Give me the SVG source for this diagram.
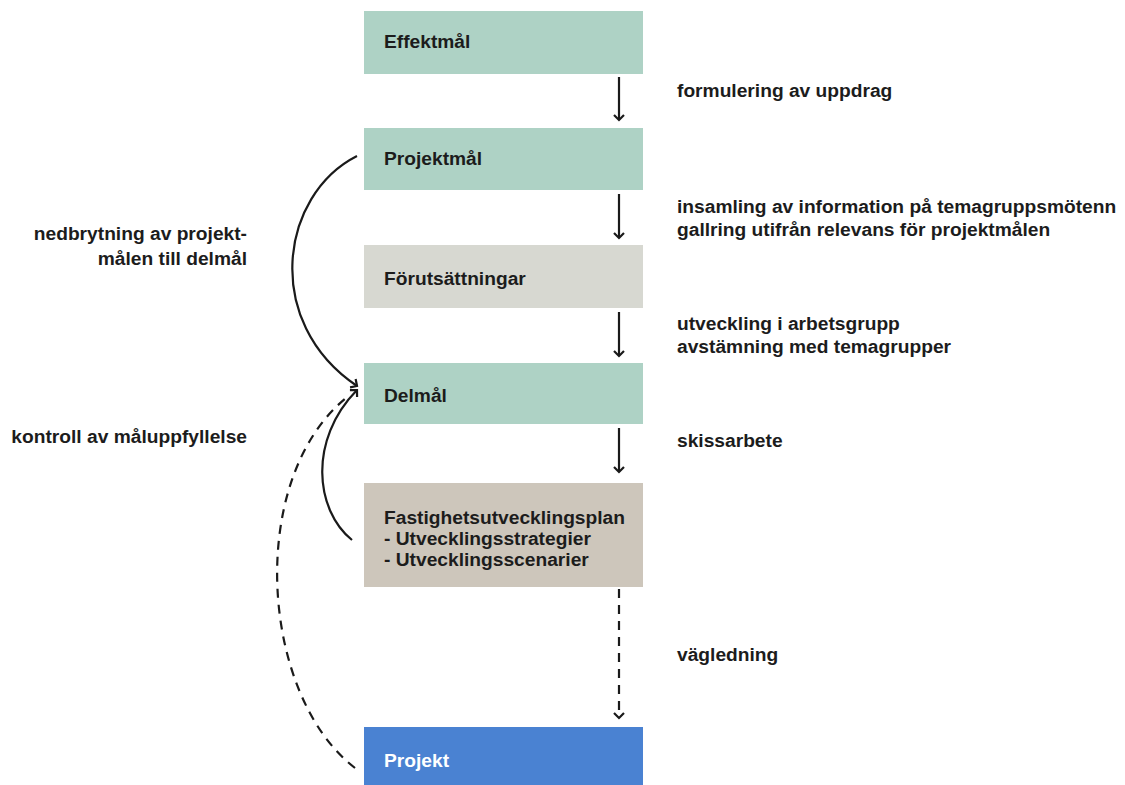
<svg xmlns="http://www.w3.org/2000/svg" width="1125" height="785" viewBox="0 0 1125 785">
  <style>
    .lbl { font-family: "Liberation Sans", Arial, sans-serif; font-size: 19.2px; font-weight: bold; fill: #1c1c1c; }
    .white { fill: #ffffff; }
    .edge { fill: none; stroke: #1a1a1a; stroke-width: 2.2; }
    .dash { stroke-dasharray: 9 7; }
  </style>
  <defs>
    <!-- open chevron head, drawn pointing along +x -->
    <marker id="arrow" viewBox="0 0 12 12" refX="10" refY="6" markerWidth="12" markerHeight="12" markerUnits="userSpaceOnUse" orient="auto">
      <path d="M5,1 L10,6 L5,11" fill="none" stroke="#1a1a1a" stroke-width="2.2"/>
    </marker>
  </defs>
  <rect width="1125" height="785" fill="#ffffff"/>

  <g id="effektmal">
    <rect x="364" y="11" width="279" height="63" fill="#aed2c5"/>
    <text class="lbl" x="384" y="48">Effektmål</text>
  </g>
  <g id="projektmal">
    <rect x="364" y="128" width="279" height="62" fill="#aed2c5"/>
    <text class="lbl" x="384" y="165">Projektmål</text>
  </g>
  <g id="forutsattningar">
    <rect x="364" y="245" width="279" height="63" fill="#d7d8d1"/>
    <text class="lbl" x="384" y="285">Förutsättningar</text>
  </g>
  <g id="delmal">
    <rect x="364" y="363" width="279" height="61" fill="#aed2c5"/>
    <text class="lbl" x="384" y="402">Delmål</text>
  </g>
  <g id="fastighetsutvecklingsplan">
    <rect x="364" y="483" width="279" height="104" fill="#cdc6bb"/>
    <text class="lbl" x="384" y="524">Fastighetsutvecklingsplan</text>
    <text class="lbl" x="384" y="545">- Utvecklingsstrategier</text>
    <text class="lbl" x="384" y="566">- Utvecklingsscenarier</text>
  </g>
  <g id="projekt">
    <rect x="364" y="727" width="279" height="58" fill="#4a82d2"/>
    <text class="lbl white" x="384" y="767">Projekt</text>
  </g>

  <g id="connectors">
    <line class="edge" x1="619" y1="77" x2="619" y2="120" marker-end="url(#arrow)"/>
    <line class="edge" x1="619" y1="194" x2="619" y2="238" marker-end="url(#arrow)"/>
    <line class="edge" x1="619" y1="312" x2="619" y2="356" marker-end="url(#arrow)"/>
    <line class="edge" x1="619" y1="428" x2="619" y2="472" marker-end="url(#arrow)"/>
    <line class="edge dash" x1="619" y1="589" x2="619" y2="718" marker-end="url(#arrow)"/>
    <path class="edge" d="M357,156 C280,195 262,322 357,386" marker-end="url(#arrow)"/>
    <path class="edge" d="M352,540 C315,510 308,440 357,390" marker-end="url(#arrow)"/>
    <path class="edge dash" d="M355,768 C260,695 246,480 346,398"/>
  </g>

  <g id="labels">
    <text class="lbl" x="677" y="97">formulering av uppdrag</text>
    <text class="lbl" x="677" y="213">insamling av information på temagruppsmötenn</text>
    <text class="lbl" x="677" y="236">gallring utifrån relevans för projektmålen</text>
    <text class="lbl" x="677" y="330">utveckling i arbetsgrupp</text>
    <text class="lbl" x="677" y="353">avstämning med temagrupper</text>
    <text class="lbl" x="677" y="447">skissarbete</text>
    <text class="lbl" x="677" y="661">vägledning</text>
    <text class="lbl" x="247" y="240" text-anchor="end">nedbrytning av projekt-</text>
    <text class="lbl" x="247" y="265" text-anchor="end">målen till delmål</text>
    <text class="lbl" x="247" y="443" text-anchor="end">kontroll av måluppfyllelse</text>
  </g>
</svg>
